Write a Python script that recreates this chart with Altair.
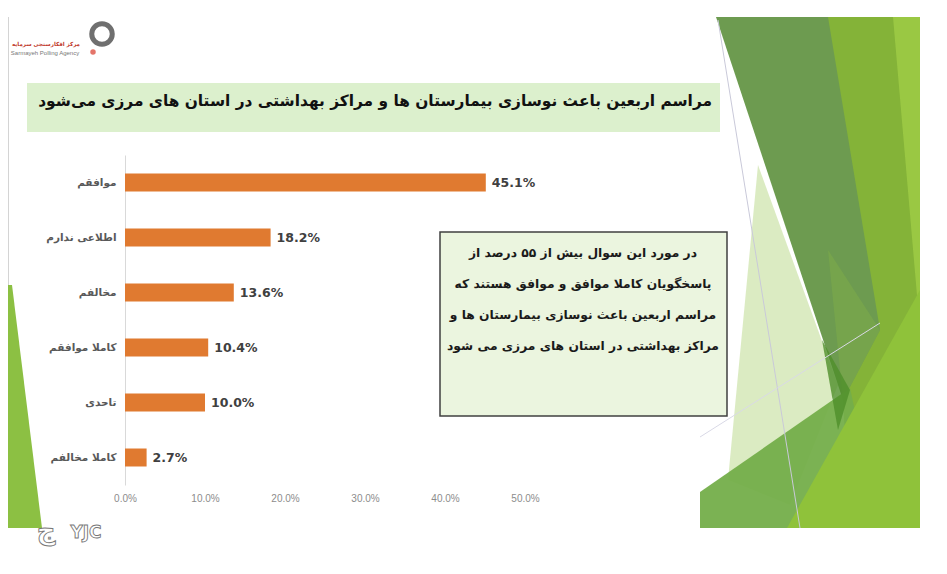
import altair as alt
import pandas as pd

# ---------------- data ----------------
categories = ["موافقم", "اطلاعی ندارم", "مخالفم", "کاملا موافقم", "تاحدی", "کاملا مخالفم"]
values = [45.1, 18.2, 13.6, 10.4, 10.0, 2.7]
value_labels = ["45.1%", "18.2%", "13.6%", "10.4%", "10.0%", "2.7%"]
tick_values = [0.0, 0.1, 0.2, 0.3, 0.4, 0.5]

title_text = "مراسم اربعین  باعث نوسازی بیمارستان ها و مراکز بهداشتی در استان های مرزی می‌شود"
box_lines = [
    "در مورد این سوال بیش از ۵۵ درصد از",
    "پاسخگویان کاملا موافق و موافق هستند که",
    "مراسم اربعین باعث نوسازی بیمارستان ها و",
    "مراکز بهداشتی در استان های مرزی می شود",
]
logo_fa = "مرکز افکارسنجی سرمایه"
logo_en = "Sarmayeh Polling Agency"

# ---------------- layout ----------------
PAD_L, PAD_T = 117, 147
PLOT_W, PLOT_H = 400, 330
TOTAL_W, TOTAL_H = 931, 558
OX, OY = 8 + PAD_L, 8 + PAD_T  # plot origin in page pixels


def px(x):
    return x - OX


def py(y):
    return y - OY


one = pd.DataFrame({"a": [0]})


def rect(x1, y1, x2, y2, **kw):
    return alt.Chart(one).mark_rect(**kw).encode(
        x=alt.value(px(x1)), x2=alt.value(px(x2)),
        y=alt.value(py(y1)), y2=alt.value(py(y2)))


def text(x, y, s, **kw):
    return alt.Chart(pd.DataFrame({"t": [s]})).mark_text(**kw).encode(
        x=alt.value(px(x)), y=alt.value(py(y)), text="t:N")


def poly(pts, color, opacity=1.0, filled=True, sw=1.0):
    path = "M" + "L".join(f"{px(x)},{py(y)}" for x, y in pts) + ("Z" if filled else "")
    kw = dict(shape=path, filled=filled, size=4, color=color, opacity=opacity)
    kw["strokeWidth"] = 0 if filled else sw
    return alt.Chart(one).mark_point(**kw).encode(x=alt.value(0), y=alt.value(0))


# decorative slide shapes (page pixel coordinates)
decor = [
    rect(8, 17, 9, 528, color="#d4d4d4"),
    poly([(8, 285), (12, 285), (42, 528), (8, 528)], "#8cc043"),
    poly([(827, 17), (920, 17), (920, 528), (850, 528), (843, 400)], "#84b338"),
    poly([(893, 17), (920, 17), (920, 330)], "#9cca45", 0.9),
    poly([(758, 165), (838, 385), (790, 505), (728, 480)], "#d9eabf", 0.95),
    poly([(716, 17), (828, 17), (880, 330), (843, 400)], "#6d9b50"),
    poly([(828, 250), (880, 330), (843, 400)], "#7aa84a", 0.7),
    poly([(700, 492), (850, 388), (880, 528), (700, 528)], "#74ae4a", 0.95),
    poly([(822, 340), (850, 390), (838, 430)], "#4f8f2a", 0.8),
    poly([(787, 528), (920, 290), (920, 528)], "#8fc23a"),
    poly([(718, 20), (800, 528)], "#c9c9d9", 1.0, filled=False, sw=1),
    poly([(700, 437), (880, 323)], "#d9d9e6", 1.0, filled=False, sw=1),
]

title_box = rect(27, 83, 720, 132, color="#dcf0cd")
text_box = rect(440, 232, 727, 416, color="#ebf5df", stroke="#404040", strokeWidth=1.5)

# ---------------- bars ----------------
df = pd.DataFrame({"cat": categories, "val": [v / 100 for v in values], "lab": value_labels})

y_enc = alt.Y(
    "cat:N", sort=categories,
    scale=alt.Scale(paddingInner=0, paddingOuter=0),
    axis=alt.Axis(title=None, domainColor="#d9d9d9", domainWidth=1, ticks=False,
                  labelPadding=9, labelFont="DejaVu Sans", labelFontWeight="bold",
                  labelFontSize=10.5, labelColor="#595959"))
x_enc = alt.X(
    "val:Q", scale=alt.Scale(domain=[0, 0.5], nice=False),
    axis=alt.Axis(title=None, values=tick_values, format=".1%", grid=False, domain=False,
                  ticks=False, labelFlush=False, labelFont="Liberation Sans",
                  labelFontSize=10, labelColor="#8c8c8c", labelPadding=8))

bars = alt.Chart(df).mark_bar(size=18, color="#e07a30").encode(x=x_enc, y=y_enc)
bar_labels = alt.Chart(df).mark_text(
    align="left", baseline="middle", dx=6, font="DejaVu Sans", fontWeight="bold",
    fontSize=12.5, color="#404040").encode(
    x="val:Q", y=alt.Y("cat:N", sort=categories), text="lab:N")

# ---------------- texts ----------------
texts = [
    text(712, 101, title_text, align="right", baseline="middle", font="DejaVu Sans",
         fontWeight="bold", fontSize=15.4, color="#111111"),
]
for i, line in enumerate(box_lines):
    texts.append(text(583, 253 + i * 31, line, align="center", baseline="middle",
                      font="DejaVu Sans", fontWeight="bold", fontSize=12.3, color="#1a1a1a"))

texts += [
    text(80, 44, logo_fa, align="right", baseline="middle", font="DejaVu Sans",
         fontWeight="bold", fontSize=5.5, color="#c0392b"),
    text(45, 53, logo_en, align="center", baseline="middle", font="Liberation Sans",
         fontSize=6, color="#777777"),
    text(86, 533, "YJC", align="center", baseline="middle", font="DejaVu Sans",
         fontWeight="bold", fontSize=17, color="#ffffff", stroke="#777777", strokeWidth=0.9),
    text(46, 531, "ج", align="center", baseline="middle", font="DejaVu Sans",
         fontWeight="bold", fontSize=26, color="#ffffff", stroke="#777777", strokeWidth=0.9),
]

logo = [
    alt.Chart(one).mark_point(shape="circle", size=420, filled=False, color="#333333",
                              strokeWidth=5).encode(x=alt.value(px(102)), y=alt.value(py(34))),
    alt.Chart(one).mark_point(shape="circle", size=30, filled=True, color="#d93a2b").encode(
        x=alt.value(px(93)), y=alt.value(py(52))),
]

chart = alt.layer(*decor, title_box, text_box, bars, bar_labels, *texts, *logo).properties(
    width=PLOT_W, height=PLOT_H,
    autosize=alt.AutoSizeParams(type="none"),
    padding={"left": PAD_L, "top": PAD_T, "right": TOTAL_W - PAD_L - PLOT_W,
             "bottom": TOTAL_H - PAD_T - PLOT_H},
).configure_view(stroke=None)

chart.save("out.html", embed_options={"renderer": "svg", "actions": False})
